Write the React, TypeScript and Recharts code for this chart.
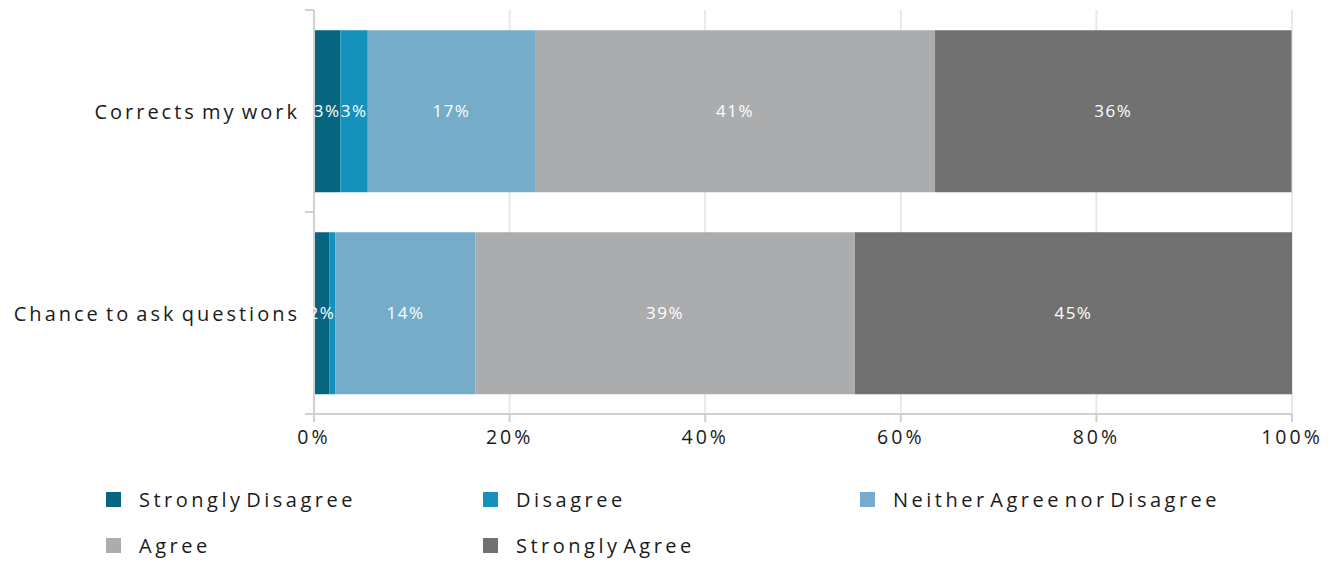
import React from 'react';
import { BarChart, Bar, XAxis, YAxis, CartesianGrid, Legend, LabelList } from 'recharts';

const categories = ['Corrects my work', 'Chance to ask questions'];
const seriesNames = ['Strongly Disagree', 'Disagree', 'Neither Agree nor Disagree', 'Agree', 'Strongly Agree'];
const stronglyDisagree = [2.7, 1.6];
const disagree = [2.8, 0.6];
const neither = [17.1, 14.3];
const agree = [40.9, 38.8];
const stronglyAgree = [36.45, 44.7];
const xTicks = [0, 20, 40, 60, 80, 100];
const colors = ['#07657f', '#1592bb', '#74acca', '#abacae', '#717171'];
const seriesKeys = ['sd', 'd', 'n', 'a', 'sa'];

const data = categories.map((name, i) => ({
  name,
  sd: stronglyDisagree[i],
  d: disagree[i],
  n: neither[i],
  a: agree[i],
  sa: stronglyAgree[i],
}));

const W = 1326;
const H = 550;
const MARGIN = { top: 2, right: 42, left: 0, bottom: 0 };
const X_AXIS_H = 42;
const LEGEND_H = 102;
const PLOT_H = H - MARGIN.top - MARGIN.bottom - X_AXIS_H - LEGEND_H;
const FONT = "'Open Sans', sans-serif";
const AXIS_COLOR = '#d0d0d0';
const TEXT_COLOR = '#1a1a1a';

const YTick = (props: any) => {
  const { x, y, payload, index } = props;
  const band = PLOT_H / categories.length;
  return (
    <g>
      <line x1={x} x2={x - 9} y1={y - band / 2} y2={y - band / 2} stroke={AXIS_COLOR} strokeWidth={2} />
      {index === categories.length - 1 && (
        <line x1={x} x2={x - 9} y1={y + band / 2} y2={y + band / 2} stroke={AXIS_COLOR} strokeWidth={2} />
      )}
      <text
        x={x - 14}
        y={y}
        dy="0.4em"
        textAnchor="end"
        fill={TEXT_COLOR}
        fontSize={20}
        fontFamily={FONT}
        letterSpacing={3}
        wordSpacing={-3}
      >
        {payload.value}
      </text>
    </g>
  );
};

const XTick = (props: any) => {
  const { x, y, payload } = props;
  return (
    <text
      x={x}
      y={y}
      dy="0.71em"
      textAnchor="middle"
      fill={TEXT_COLOR}
      fontSize={19.5}
      fontFamily={FONT}
      letterSpacing={3}
    >
      {`${payload.value}%`}
    </text>
  );
};

const renderBarLabel = (props: any) => {
  const { x, y, width, height, value } = props;
  if (width == null || width < 10) return null;
  return (
    <text
      x={x + width / 2}
      y={y + height / 2}
      dy="0.35em"
      textAnchor="middle"
      fill="#ffffff"
      fontSize={17}
      fontFamily={FONT}
      letterSpacing={1.5}
    >
      {`${Math.round(value)}%`}
    </text>
  );
};

const LegendContent = () => (
  <div
    style={{
      boxSizing: 'border-box',
      height: LEGEND_H,
      paddingTop: 20,
      paddingLeft: 98,
      display: 'grid',
      gridTemplateColumns: '377px 377px 377px',
      gridAutoRows: '46px',
      fontFamily: FONT,
      fontSize: 20,
      letterSpacing: 3.5,
      wordSpacing: -6,
      color: TEXT_COLOR,
    }}
  >
    {seriesNames.map((n, i) => (
      <div key={n} style={{ display: 'flex', alignItems: 'center', whiteSpace: 'nowrap' }}>
        <span style={{ display: 'inline-block', width: 15, height: 15, background: colors[i], marginRight: 18, flex: 'none' }} />
        <span>{n}</span>
      </div>
    ))}
  </div>
);

export default function App() {
  return (
    <div style={{ width: W, height: H }}>
      <BarChart
        width={W}
        height={H}
        data={data}
        layout="vertical"
        margin={MARGIN}
        barCategoryGap="10%"
      >
        <CartesianGrid horizontal={false} stroke="#e8e8e8" strokeWidth={2} />
        <XAxis
          type="number"
          domain={[0, 100]}
          ticks={xTicks}
          allowDataOverflow
          height={X_AXIS_H}
          tick={<XTick />}
          tickSize={8}
          tickMargin={8}
          axisLine={{ stroke: AXIS_COLOR, strokeWidth: 2 }}
          tickLine={{ stroke: AXIS_COLOR, strokeWidth: 2 }}
          interval={0}
        />
        <YAxis
          type="category"
          dataKey="name"
          width={306}
          tick={<YTick />}
          tickSize={0}
          tickMargin={0}
          tickLine={false}
          axisLine={{ stroke: AXIS_COLOR, strokeWidth: 2 }}
          interval={0}
        />
        <Legend verticalAlign="bottom" content={<LegendContent />} wrapperStyle={{ left: 0, width: W, height: LEGEND_H }} />
        {seriesKeys.map((k, i) => (
          <Bar key={k} dataKey={k} name={seriesNames[i]} stackId="s" fill={colors[i]} isAnimationActive={false}>
            <LabelList dataKey={k} content={renderBarLabel} />
          </Bar>
        ))}
      </BarChart>
    </div>
  );
}
